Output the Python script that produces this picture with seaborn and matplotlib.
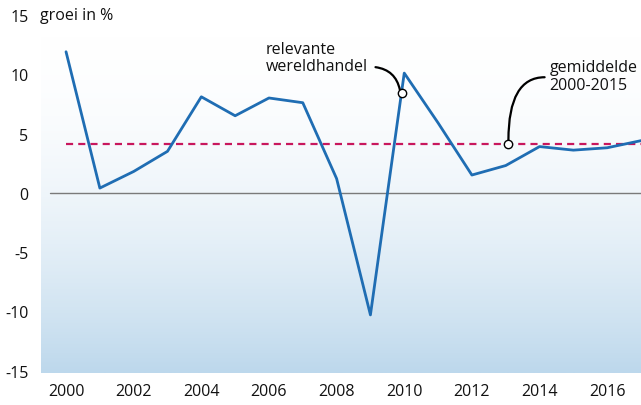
import numpy as np
import pandas as pd
import seaborn as sns
import matplotlib.pyplot as plt
from matplotlib.colors import LinearSegmentedColormap
import matplotlib.transforms as mtransforms

years = list(range(2000, 2018))
growth = [11.9, 0.4, 1.8, 3.5, 8.1, 6.5, 8.0, 7.6, 1.2, -10.3,
          10.1, 5.9, 1.5, 2.3, 3.9, 3.6, 3.8, 4.4]
mean_2000_2015 = 4.1
x_ticks = list(range(2000, 2017, 2))
y_ticks = [-15, -10, -5, 0, 5, 10, 15]

df = pd.DataFrame({"jaar": years, "groei": growth})

sns.set_theme(style="white")
plt.rcParams["font.family"] = ["Open Sans", "DejaVu Sans"]

fig = plt.figure(figsize=(6.41, 4.06), dpi=100)
ax = fig.add_axes([41 / 641, 1 - 374 / 406, 600 / 641, 358 / 406])

x_min, x_max = 1999.26, 2017.0
ax.set_xlim(x_min, x_max)
ax.set_ylim(-15.2, 15)

# achtergrond: verloop van wit naar lichtblauw
t = np.linspace(0, 1, 256) ** 2
grad = t.reshape(-1, 1)
cmap = LinearSegmentedColormap.from_list("bg", ["#ffffff", "#bdd8ec"])
ax.imshow(grad, extent=[x_min, x_max, -15.2, 15], aspect="auto",
          cmap=cmap, origin="upper", zorder=0)

ax.axhline(0, xmin=0.015, xmax=1, color="#7a7a7a", lw=1.0, zorder=1)
ax.plot([2000, x_max], [mean_2000_2015] * 2, color="#c8175d", lw=1.6,
        dashes=(3.2, 2.3), zorder=2)

sns.lineplot(data=df, x="jaar", y="groei", ax=ax, color="#1f6db3",
             lw=2.0, zorder=3)

# annotaties
c1 = (2009.93, 8.4)
c2 = (2013.08, mean_2000_2015)
ax.annotate("", xy=(c1[0] - 0.06, c1[1] + 0.3), xytext=(2009.15, 10.6),
            arrowprops=dict(arrowstyle="-", color="black", lw=1.6,
                            shrinkA=0, shrinkB=0,
                            connectionstyle="arc3,rad=-0.35"),
            zorder=4)
ax.annotate("", xy=(c2[0], c2[1] + 0.35), xytext=(2014.15, 9.75),
            arrowprops=dict(arrowstyle="-", color="black", lw=1.6,
                            shrinkA=0, shrinkB=0,
                            connectionstyle="angle3,angleA=0,angleB=90"),
            zorder=4)
ax.plot(*c1, "o", ms=6, mfc="white", mec="black", mew=1.0, zorder=5)
ax.plot(*c2, "o", ms=6, mfc="white", mec="black", mew=1.0, zorder=5)

ax.text(2005.9, 11.4, "relevante\nwereldhandel", fontsize=11.5,
        ha="left", va="center", linespacing=1.1, color="#111111", zorder=6)
ax.text(2014.3, 9.85, "gemiddelde\n2000-2015", fontsize=11.5,
        ha="left", va="center", linespacing=1.1, color="#111111", zorder=6)

trans = mtransforms.blended_transform_factory(ax.transAxes, ax.transData)
ax.text(-0.002, 15, "groei in %", fontsize=11.5, ha="left", va="center",
        transform=trans, color="#111111")

ax.set_xticks(x_ticks)
ax.set_yticks(y_ticks)
ax.set_xticklabels([str(v) for v in x_ticks])
ax.set_yticklabels([str(v) for v in y_ticks])
ax.tick_params(axis="both", length=0, labelsize=11.5, colors="#111111")
ax.tick_params(axis="y", pad=9)
ax.tick_params(axis="x", pad=7)
ax.set_xlabel("")
ax.set_ylabel("")
for s in ax.spines.values():
    s.set_visible(False)

fig.savefig("out.png", dpi=100)
